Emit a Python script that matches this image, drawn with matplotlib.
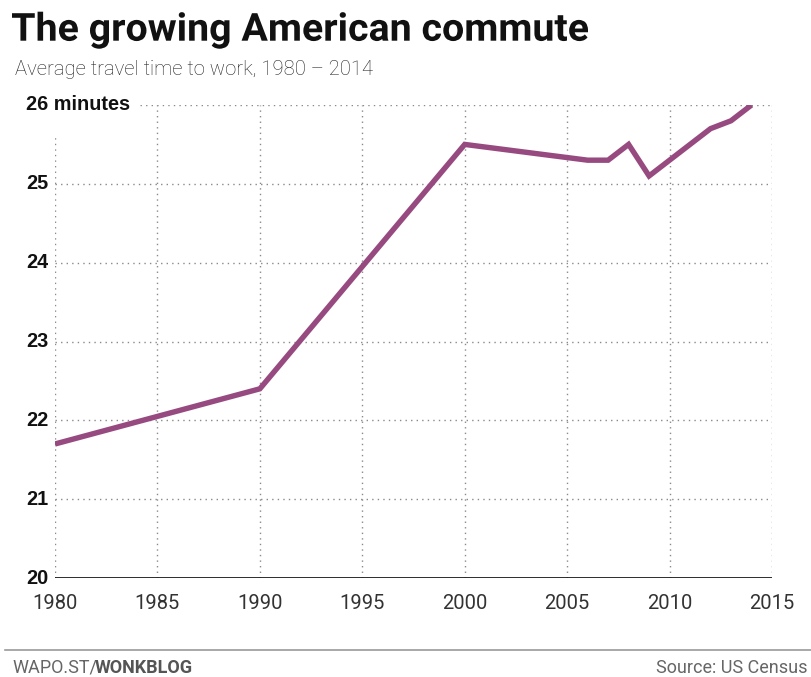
import matplotlib.pyplot as plt
import matplotlib.transforms as mtransforms
from matplotlib.textpath import TextPath
from matplotlib.font_manager import FontProperties
from matplotlib.patches import PathPatch

years = [1980, 1990, 2000, 2006, 2007, 2008, 2009, 2010, 2011, 2012, 2013, 2014]
minutes = [21.7, 22.4, 25.5, 25.3, 25.3, 25.5, 25.1, 25.3, 25.5, 25.7, 25.8, 26.0]

x_ticks = [1980, 1985, 1990, 1995, 2000, 2005, 2010, 2015]
y_ticks = [20, 21, 22, 23, 24, 25, 26]
y_labels = ['20', '21', '22', '23', '24', '25', '26 minutes']

title = 'The growing American commute'
subtitle = 'Average travel time to work, 1980 – 2014'

W, H = 812, 677
fig = plt.figure(figsize=(W / 100, H / 100), dpi=100)
ax = fig.add_axes([55 / W, 1 - 578 / H, (772 - 55) / W, (578 - 105) / H])
ax.set_xlim(1980, 2015)
ax.set_ylim(20, 26)
ax.axis('off')

grid = dict(color='#8a8a8a', linestyle=(0, (1, 3)), linewidth=1.0, zorder=1)
# horizontal grid; the top one leaves room for its label
for y in y_ticks[1:]:
    x0 = 1980 + (140 - 55) / 20.49 if y == 26 else 1980
    ax.plot([x0, 2015], [y, y], **grid)
# vertical grid; the 1980 line stops below the "26 minutes" label
for x in x_ticks:
    ytop = 26 - (135 - 105) / 79 if x == 1980 else 26
    ax.plot([x, x], [20, ytop], **grid)

ax.plot([1980, 2015], [20, 20], color='#1a1a1a', linewidth=2.0, zorder=2)
ax.plot(years, minutes, color='#974a80', linewidth=3.9,
        solid_joinstyle='miter', solid_capstyle='butt', zorder=3)

tr = mtransforms.blended_transform_factory(fig.transFigure, ax.transData)
for y, lab in zip(y_ticks, y_labels):
    ax.text(26 / W, y, lab, transform=tr, ha='left', va='center',
            fontsize=14.3, fontweight='bold', color='#111111', family='Liberation Sans')

for x in x_ticks:
    ax.text(x, 20 - 26 / 79, str(x), ha='center', va='center',
            fontsize=14.5, color='#333333', family='Roboto')

# condensed bold title: Roboto Bold outline squeezed horizontally
fp = FontProperties(family='Roboto', weight='bold')
tp = TextPath((0, 0), title, size=1, prop=fp)
cap = TextPath((0, 0), 'T', size=1, prop=fp).get_extents().height
ext = tp.get_extents()
sy = 27.5 / cap
sx = (588 - 12) / ext.width
xf = mtransforms.Affine2D().translate(-ext.x0, 0).scale(sx, sy).translate(12, H - 40.7)
fig.add_artist(PathPatch(xf.transform_path(tp), facecolor='#111111', edgecolor='none',
                         transform=mtransforms.IdentityTransform()))

fig.text(15 / W, 1 - 69.5 / H, subtitle, ha='left', va='center',
         fontsize=14.6, fontweight='light', color='#222222', family='Roboto')

fig.add_artist(plt.Line2D([5 / W, 1], [1 - 650 / H] * 2, color='#9a9a9a', linewidth=1.2,
                          transform=fig.transFigure))
t = fig.text(12 / W, 1 - 668 / H, 'WAPO.ST/', ha='left', va='center',
             fontsize=13, color='#666666', family='Roboto')
fig.canvas.draw()
bb = t.get_window_extent()
fig.text(bb.x1 / W - 2 / W, 1 - 668 / H, 'WONKBLOG', ha='left', va='center',
         fontsize=13, fontweight='bold', color='#555555', family='Roboto')
fig.text(808 / W, 1 - 668 / H, 'Source: US Census', ha='right', va='center',
         fontsize=13, color='#666666', family='Roboto')

fig.savefig('out.png', dpi=100, facecolor='white')
